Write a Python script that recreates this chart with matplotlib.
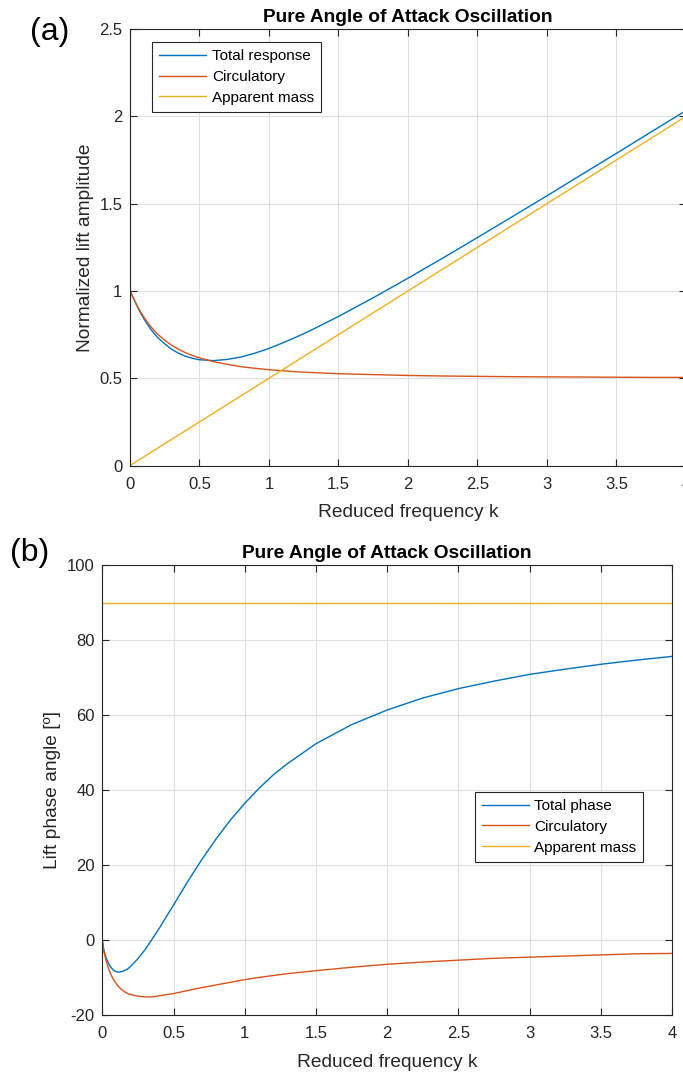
import numpy as np
import matplotlib.pyplot as plt

# reduced frequency samples
k = [0, 0.01, 0.025, 0.04, 0.05, 0.06, 0.08, 0.1, 0.12, 0.14, 0.16, 0.18, 0.2,
     0.25, 0.3, 0.35, 0.4, 0.45, 0.5, 0.6, 0.7, 0.8, 0.9, 1.0, 1.1, 1.2, 1.3,
     1.5, 1.75, 2.0, 2.25, 2.5, 2.75, 3.0, 3.25, 3.5, 3.75, 4.0]

# (a) amplitudes
amp_total = [1.0, 0.983, 0.957, 0.932, 0.915, 0.899, 0.869, 0.841, 0.815, 0.792,
             0.770, 0.751, 0.733, 0.697, 0.666, 0.643, 0.626, 0.614, 0.606, 0.601,
             0.608, 0.622, 0.644, 0.671, 0.703, 0.737, 0.774, 0.854, 0.961, 1.073,
             1.188, 1.306, 1.425, 1.545, 1.667, 1.788, 1.911, 2.033]
amp_circ = [1.0, 0.984, 0.959, 0.934, 0.918, 0.903, 0.875, 0.850, 0.826, 0.806,
            0.786, 0.768, 0.752, 0.718, 0.689, 0.666, 0.646, 0.630, 0.617, 0.595,
            0.580, 0.566, 0.557, 0.549, 0.543, 0.537, 0.533, 0.526, 0.521, 0.516,
            0.513, 0.511, 0.509, 0.508, 0.507, 0.506, 0.505, 0.505]
k_mass = [0, 4.0]
amp_mass = [0, 2.0]

# (b) phases in degrees
ph_total = [0, -2.5, -4.5, -5.9, -6.6, -7.2, -8.0, -8.4, -8.5, -8.3, -8.0, -7.6,
            -6.9, -4.9, -2.5, 0.3, 3.2, 6.3, 9.4, 15.7, 21.6, 27.1, 32.1, 36.5,
            40.5, 44.1, 47.1, 52.4, 57.5, 61.4, 64.6, 67.1, 69.1, 70.9, 72.3,
            73.6, 74.7, 75.7]
ph_circ = [0, -2.8, -5.2, -7.1, -8.2, -9.1, -10.6, -11.7, -12.6, -13.3, -13.8,
           -14.2, -14.5, -14.9, -15.1, -15.1, -14.8, -14.5, -14.2, -13.4, -12.6,
           -11.9, -11.2, -10.5, -9.9, -9.4, -8.9, -8.1, -7.2, -6.4, -5.8, -5.3,
           -4.8, -4.5, -4.2, -3.9, -3.6, -3.5]
ph_mass = [90, 90]

xtick_labels = ['0', '0.5', '1', '1.5', '2', '2.5', '3', '3.5', '4']

c_blue = '#0072BD'
c_red = '#D95319'
c_yel = '#EDB120'
txt = '#262626'

plt.rcParams['font.family'] = ['Liberation Sans', 'DejaVu Sans']
plt.rcParams['axes.unicode_minus'] = False

fig = plt.figure(figsize=(6.83, 10.72), dpi=100)


def style_axes(ax):
    ax.grid(True, color='#e0e0e0', linewidth=0.8)
    ax.set_axisbelow(True)
    ax.tick_params(direction='in', top=True, right=True, length=5,
                   labelsize=12, colors=txt, width=0.8)
    ax.tick_params(axis='x', pad=8)
    ax.tick_params(axis='y', pad=5.5)
    for s in ax.spines.values():
        s.set_color(txt)
        s.set_linewidth(0.8)


def add_legend(ax, anchor):
    leg = ax.legend(loc='upper left', bbox_to_anchor=anchor, fontsize=11,
                    frameon=True, fancybox=False, handlelength=3.1,
                    borderpad=0.45, labelspacing=0.45, handletextpad=0.35,
                    borderaxespad=0, framealpha=1)
    leg.get_frame().set_edgecolor(txt)
    leg.get_frame().set_linewidth(0.8)


# ---- panel (a)
ax1 = fig.add_axes([0.1903, 0.5657, 0.814, 0.4072])
ax1.plot(k, amp_total, color=c_blue, lw=1.0, label='Total response')
ax1.plot(k, amp_circ, color=c_red, lw=1.0, label='Circulatory')
ax1.plot(k_mass, amp_mass, color=c_yel, lw=1.0, label='Apparent mass')
ax1.set_xlim(0, 4)
ax1.set_ylim(0, 2.5)
ax1.set_xticks(np.arange(0, 4.01, 0.5))
ax1.set_xticklabels(xtick_labels)
ax1.set_yticks(np.arange(0, 2.51, 0.5))
ax1.set_yticklabels(['0', '0.5', '1', '1.5', '2', '2.5'])
style_axes(ax1)
ax1.set_xlabel('Reduced frequency k', fontsize=13.8, color=txt, labelpad=9)
ax1.set_ylabel('Normalized lift amplitude', fontsize=13.8, color=txt)
ax1.set_title('Pure Angle of Attack Oscillation', fontsize=13.8, fontweight='bold',
              color='black', pad=5)
add_legend(ax1, (0.04, 0.97))
fig.text(0.044, 0.970, '(a)', fontsize=23, ha='left', va='center')

# ---- panel (b)
ax2 = fig.add_axes([0.1498, 0.0529, 0.834, 0.4198])
ax2.plot(k, ph_total, color=c_blue, lw=1.0, label='Total phase')
ax2.plot(k, ph_circ, color=c_red, lw=1.0, label='Circulatory')
ax2.plot(k_mass, ph_mass, color=c_yel, lw=1.0, label='Apparent mass')
ax2.set_xlim(0, 4)
ax2.set_ylim(-20, 100)
ax2.set_xticks(np.arange(0, 4.01, 0.5))
ax2.set_xticklabels(xtick_labels)
ax2.set_yticks(np.arange(-20, 101, 20))
style_axes(ax2)
ax2.set_xlabel('Reduced frequency k', fontsize=13.8, color=txt, labelpad=9)
ax2.set_ylabel('Lift phase angle [º]', fontsize=13.8, color=txt)
ax2.set_title('Pure Angle of Attack Oscillation', fontsize=13.8, fontweight='bold',
              color='black', pad=5)
add_legend(ax2, (0.654, 0.496))
fig.text(0.014, 0.484, '(b)', fontsize=23, ha='left', va='center')

fig.savefig('out.png', dpi=100)
